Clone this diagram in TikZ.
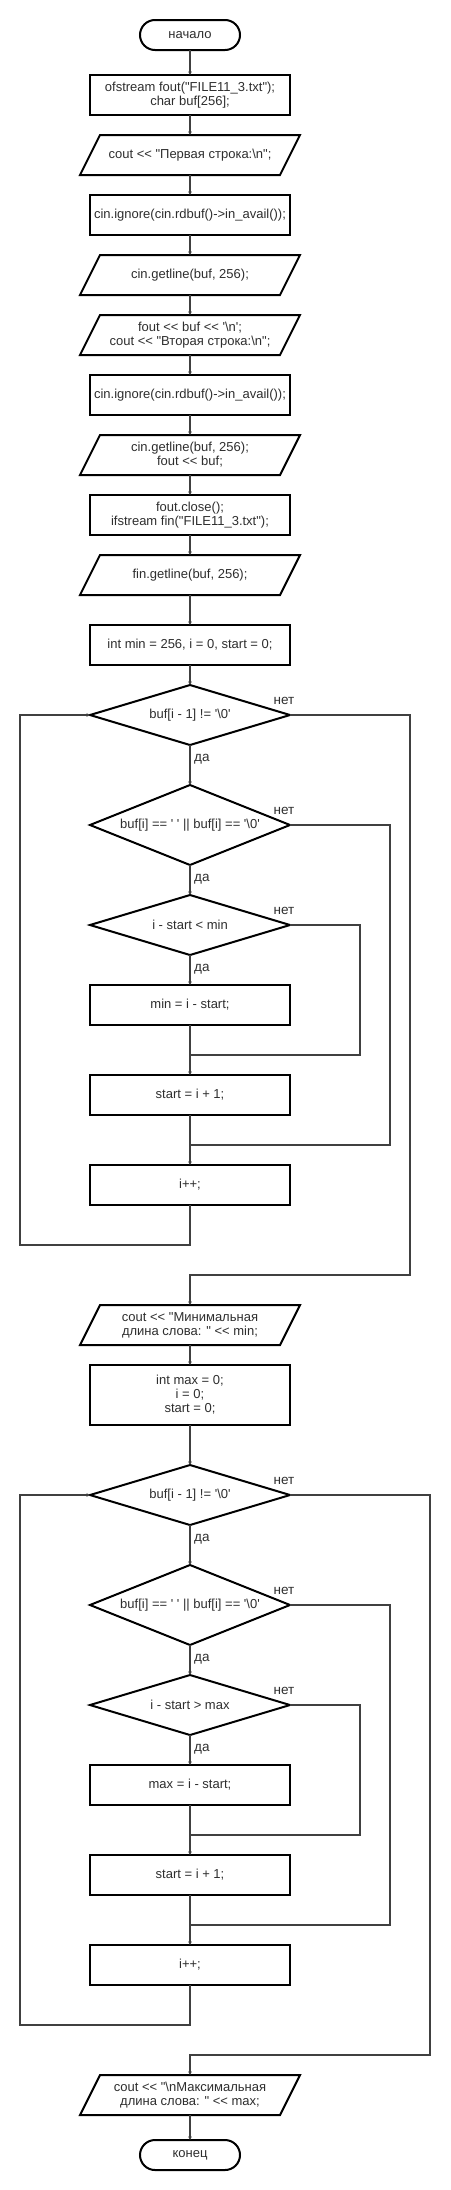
\documentclass[tikz,border=0pt]{standalone}
\usepackage{fontspec}
\newfontfamily\arialf{Liberation Sans}
\usetikzlibrary{arrows.meta,shapes.geometric}
\definecolor{txt}{HTML}{2E2E2E}
\definecolor{lgray}{HTML}{404040}
\tikzset{
  base/.style={font=\arialf\fontsize{13}{14}\selectfont, text=txt, align=center, inner sep=0pt, outer sep=0pt},
  proc/.style={base, rectangle, draw=black, line width=2pt, minimum width=200pt, minimum height=40pt},
  term/.style={base, rectangle, rounded corners=15pt, draw=black, line width=2pt, minimum width=100pt, minimum height=30pt},
  dec/.style={base, diamond, draw=black, line width=2pt, minimum width=200pt, minimum height=60pt, aspect=3.3},
  dectall/.style={dec, minimum height=80pt, aspect=2.5},
  iobox/.style={base, rectangle, minimum width=200pt, minimum height=40pt},
  ioline/.style={draw=black, line width=2pt, line join=miter},
  conn/.style={draw=lgray, line width=1.3pt},
  arr/.style={conn, -{Triangle[length=3.5pt,width=3.5pt]}},
  lab/.style={font=\arialf\fontsize{13.5}{14}\selectfont, text=txt, inner sep=0pt}
}
\newcommand\ionode[3]{%
  \node[iobox] (#1) at (190,#2) {#3};
  \draw[ioline] ([xshift=-10pt]#1.south west) -- ([xshift=10pt]#1.north west) -- ([xshift=10pt]#1.north east) -- ([xshift=-10pt]#1.south east) -- cycle;}
\newcommand\yeslab[1]{\node[lab, anchor=west] at ([xshift=4pt,yshift=-14pt]#1.south) {да};}
\newcommand\nolab[1]{\node[lab] at ([xshift=-6pt,yshift=14pt]#1.east) {нет};}
\begin{document}
\begin{tikzpicture}[x=1pt,y=-1pt]
\useasboundingbox[fill=white] (0,0) rectangle (450,2190);
% first part
\node[term] (start) at (190,35) {начало};
\node[proc] (b1) at (190,95) {ofstream fout("FILE11\_3.txt");\\char buf[256];};
\ionode{p1}{155}{cout << "Первая строка:\textbackslash n";}
\node[proc] (b2) at (190,215) {cin.ignore(cin.rdbuf()->in\_avail());};
\ionode{p2}{275}{cin.getline(buf, 256);}
\ionode{p3}{335}{fout << buf << '\textbackslash n';\\cout << "Вторая строка:\textbackslash n";}
\node[proc] (b3) at (190,395) {cin.ignore(cin.rdbuf()->in\_avail());};
\ionode{p4}{455}{cin.getline(buf, 256);\\fout << buf;}
\node[proc] (b4) at (190,515) {fout.close();\\ifstream fin("FILE11\_3.txt");};
\ionode{p5}{575}{fin.getline(buf, 256);}
\node[proc] (b5) at (190,645) {int min = 256, i = 0, start = 0;};
\node[dec] (d1) at (190,715) {buf[i - 1] != '\textbackslash 0'};
\node[dectall] (d2) at (190,825) {buf[i] == ' ' || buf[i] == '\textbackslash 0'};
\node[dec] (d3) at (190,925) {i - start < min};
\node[proc] (b6) at (190,1005) {min = i - start;};
\node[proc] (b7) at (190,1095) {start = i + 1;};
\node[proc] (b8) at (190,1185) {i++;};
\ionode{p6}{1325}{cout << "Минимальная\\длина слова: " << min;}
\node[proc, minimum height=60pt] (b9) at (190,1395) {int max = 0;\\i = 0;\\start = 0;};
\node[dec] (d4) at (190,1495) {buf[i - 1] != '\textbackslash 0'};
\node[dectall] (d5) at (190,1605) {buf[i] == ' ' || buf[i] == '\textbackslash 0'};
\node[dec] (d6) at (190,1705) {i - start > max};
\node[proc] (b10) at (190,1785) {max = i - start;};
\node[proc] (b11) at (190,1875) {start = i + 1;};
\node[proc] (b12) at (190,1965) {i++;};
\ionode{p7}{2095}{cout << "\textbackslash nМаксимальная\\длина слова: " << max;}
\node[term] (end) at (190,2155) {конец};
% helper coordinates
\coordinate (l1) at (20,1245);
\coordinate (e1) at (410,1275);
\coordinate (n2) at (390,1145);
\coordinate (m2) at (190,1145);
\coordinate (n3) at (360,1055);
\coordinate (m3) at (190,1055);
\coordinate (l2) at (20,2025);
\coordinate (e2) at (430,2055);
\coordinate (n5) at (390,1925);
\coordinate (m5) at (190,1925);
\coordinate (n6) at (360,1835);
\coordinate (m6) at (190,1835);
% straight connectors
\draw[arr] (start) -- (b1);
\draw[arr] (b1) -- (p1);
\draw[arr] (p1) -- (b2);
\draw[arr] (b2) -- (p2);
\draw[arr] (p2) -- (p3);
\draw[arr] (p3) -- (b3);
\draw[arr] (b3) -- (p4);
\draw[arr] (p4) -- (b4);
\draw[arr] (b4) -- (p5);
\draw[arr] (p5) -- (b5);
\draw[arr] (b5) -- (d1);
\draw[arr] (d1) -- (d2);
\draw[arr] (d2) -- (d3);
\draw[arr] (d3) -- (b6);
\draw[arr] (b6) -- (b7);
\draw[arr] (b7) -- (b8);
\draw[conn] (d3.east) -| (n3) -- (m3);
\draw[conn] (d2.east) -| (n2) -- (m2);
\draw[arr] (b8.south) |- (l1) |- (d1.west);
\draw[arr] (d1.east) -| (e1) -| (p6.north);
\draw[arr] (p6) -- (b9);
\draw[arr] (b9) -- (d4);
\draw[arr] (d4) -- (d5);
\draw[arr] (d5) -- (d6);
\draw[arr] (d6) -- (b10);
\draw[arr] (b10) -- (b11);
\draw[arr] (b11) -- (b12);
\draw[conn] (d6.east) -| (n6) -- (m6);
\draw[conn] (d5.east) -| (n5) -- (m5);
\draw[arr] (b12.south) |- (l2) |- (d4.west);
\draw[arr] (d4.east) -| (e2) -| (p7.north);
\draw[arr] (p7) -- (end);
% labels
\yeslab{d1}\yeslab{d2}\yeslab{d3}\yeslab{d4}\yeslab{d5}\yeslab{d6}
\nolab{d1}\nolab{d2}\nolab{d3}\nolab{d4}\nolab{d5}\nolab{d6}
\end{tikzpicture}
\end{document}
